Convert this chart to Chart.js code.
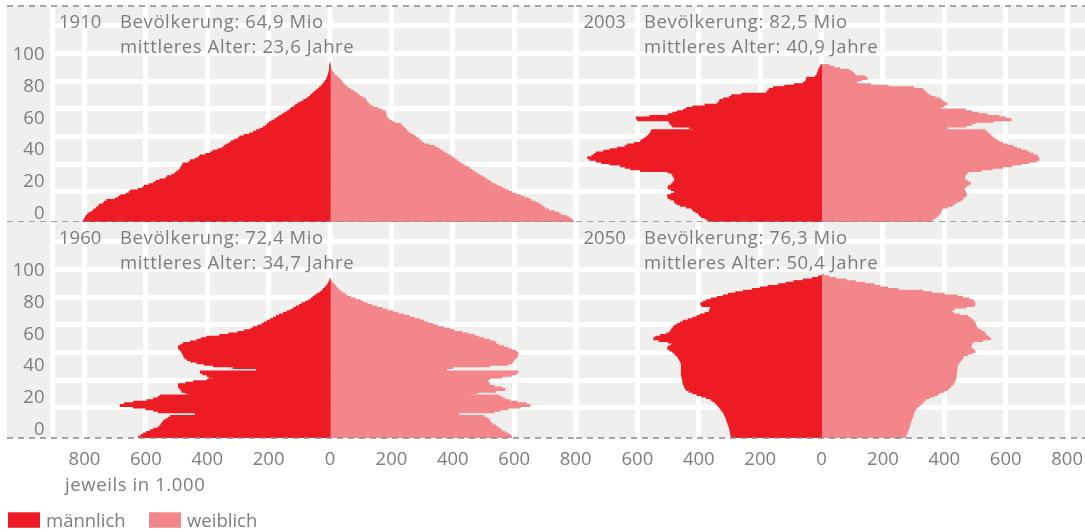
<!DOCTYPE html>
<html lang="de">
<head>
<meta charset="UTF-8">
<title>Bevölkerungspyramiden</title>
<script src="https://cdn.jsdelivr.net/npm/chart.js"></script>
<style>
  body { margin: 0; background: #fff; }
  #wrap { position: relative; width: 1085px; height: 531px; overflow: hidden; }
  canvas { position: absolute; }
</style>
</head>
<body>
<div id="wrap">
  <canvas id="c1910"></canvas>
  <canvas id="c1960"></canvas>
  <canvas id="c2003"></canvas>
  <canvas id="c2050"></canvas>
</div>
<script>
// Einwohner je Altersjahr (Index = Alter), jeweils in 1.000
const male1910 = [805,800,798,795,790,785,775,770,762,757, 752,740,735,728,700,690,682,665,655,650,
  625,610,605,590,575,567,555,535,530,515, 505,500,492,488,485,482,480,460,455,440,
  430,424,405,390,382,365,352,345,338,328, 322,312,300,295,280,262,250,240,228,218,
  210,204,198,190,180,172,165,156,148,140, 132,127,118,112,104,95,86,77,70,64,
  58,52,46,40,34,28,24,20,16,13, 10,8,6,4.5,3.5,2.5,2,1.5,1,0.5];
const female1910 = [792,788,780,770,752,745,730,712,700,695, 688,680,668,655,648,632,620,605,592,582,
  570,560,548,538,528,520,512,505,496,487, 478,470,462,456,448,438,430,422,414,407,
  400,392,382,375,366,358,350,340,322,305, 298,292,288,280,272,262,255,250,245,240,
  235,230,210,200,192,186,184,182,181,180, 168,155,140,130,125,120,117,115,105,96,
  90,82,74,66,58,52,46,41,37,34, 28,22,16,12,8,5,3,2,1,0.5];

const male2003 = [368,372,380,392,398,402,410,418,423,440, 460,470,478,480,492,500,502,490,480,478,
  490,500,498,490,485,480,478,479,482,485, 488,500,590,622,640,655,690,717,735,755,
  762,748,740,734,710,689,665,640,632,610, 590,586,578,570,564,560,556,554,417,430,
  485,490,495,497,600,604,560,500,485,470, 450,440,420,380,340,334,332,320,300,293,
  260,179,175,170,157,120,89,60,52,50, 49,20,16,14,12,10,8,5,2];
const female2003 = [355,360,369,374,380,386,388,390,393,410, 425,432,440,452,460,462,470,472,470,466,
  465,465,470,478,485,475,468,466,465,468, 472,476,520,556,590,620,650,675,700,709,
  706,703,690,680,669,650,635,624,605,590, 578,570,562,556,550,545,540,533,409,409,
  470,488,500,560,618,600,578,540,510,488, 470,386,390,400,409,400,392,386,370,355,
  345,340,335,329,300,217,160,115,115,130, 149,140,110,105,100,90,60,40,25];

const male1960 = [624,615,608,598,586,575,560,554,550,546, 543,535,527,520,413,440,560,575,600,641,
  684,670,640,597,575,560,554,456,470,483, 486,490,494,494,470,445,400,380,395,402,
  415,423,240,228,316,380,410,434,455,465, 472,476,478,482,483,488,494,494,486,478,
  455,434,420,402,360,330,300,280,258,250, 235,222,215,205,195,185,175,165,152,140,
  128,119,110,100,92,80,70,62,56,50, 42,33,27,22,17,12,8,5,3,1];
const female1960 = [592,588,580,570,560,554,548,540,530,525, 521,518,510,500,400,420,535,554,580,620,
  651,640,610,586,570,560,550,456,480,540, 570,560,535,521,518,515,512,521,560,590,
  605,612,380,326,400,520,580,593,596,600, 606,610,612,612,605,593,580,565,550,540,
  537,520,500,485,472,450,430,405,391,370, 350,335,320,305,293,275,258,240,222,205,
  185,170,152,135,120,108,98,82,68,55, 49,40,33,27,22,18,14,9,5,2];

const male2050 = [293,295,296,297,298,299,300,302,304,306, 308,309,311,313,316,318,321,325,329,333,
  337,342,348,355,361,375,390,406,420,432, 440,444,447,449,451,452,453,454,455,456,
  457,457,457,457,457,457,457,458,460,463, 466,469,475,480,485,495,502,498,490,485,
  500,530,547,541,525,505,495,491,488,484, 479,470,460,451,435,420,406,395,380,366,
  365,362,361,390,394,385,375,360,340,320, 304,280,255,225,200,175,140,115,90,60, 30,10];
const female2050 = [272,275,277,279,281,283,285,287,288,289, 291,293,295,297,299,300,302,305,308,312,
  318,325,330,335,340,352,365,378,386,400, 410,416,421,426,430,433,436,437,438,439,
  440,440,441,441,442,442,444,448,452,456, 460,462,475,490,500,495,488,486,488,490,
  494,525,550,545,538,533,530,520,510,506, 504,502,500,495,490,484,476,450,430,421,
  425,432,470,498,500,497,494,480,460,442, 400,360,330,250,216,190,171,140,110,81, 45,25,8];

const ageTicks = [0, 20, 40, 60, 80, 100];
const years = ['1910', '2003', '1960', '2050'];
const popText = ['Bevölkerung: 64,9 Mio', 'Bevölkerung: 82,5 Mio', 'Bevölkerung: 72,4 Mio', 'Bevölkerung: 76,3 Mio'];
const ageText = ['mittleres Alter: 23,6 Jahre', 'mittleres Alter: 40,9 Jahre', 'mittleres Alter: 34,7 Jahre', 'mittleres Alter: 50,4 Jahre'];
const seriesNames = ['männlich', 'weiblich'];
const unitText = 'jeweils in 1.000';

const RED = '#ed1c24';
const PINK = '#f3868a';
const BG = '#efefee';
const TEXT = '#7d7d7d';
const FONT = '"Open Sans"';
const FSIZE = 18.5;

Chart.defaults.font.family = FONT;
Chart.defaults.font.size = FSIZE;
Chart.defaults.color = TEXT;

// grauer Hintergrund, gestrichelte Linien, Beschriftungen
const deco = {
    id: 'deco',
    beforeDraw(chart, args, o) {
        const { ctx, chartArea: a } = chart;
        ctx.save();
        ctx.fillStyle = BG;
        ctx.fillRect(a.left, a.top, a.right - a.left, a.bottom - a.top);
        if (o.labelCol) ctx.fillRect(7, a.top, 43, a.bottom - a.top);
        ctx.restore();
    },
    beforeDatasetsDraw(chart) {
        // weisse Mittellinie, wird von den Balken verdeckt
        const { ctx, chartArea: a } = chart;
        const x0 = chart.scales.x.getPixelForValue(0);
        ctx.save();
        ctx.fillStyle = '#ffffff';
        ctx.fillRect(x0 - 2.5, a.top, 5, a.bottom - a.top);
        ctx.restore();
    },
    afterDatasetsDraw(chart, args, o) {
        const { ctx, chartArea: a } = chart;
        ctx.save();
        ctx.strokeStyle = '#8a8a8a';
        ctx.lineWidth = 1.3;
        ctx.setLineDash([6, 5]);
        const x0 = o.labelCol ? 7 : a.left;
        const x1 = o.labelCol ? a.right : chart.width;
        const lines = o.topDash ? [a.top, a.bottom] : [a.bottom];
        lines.forEach(y => {
            ctx.beginPath();
            ctx.moveTo(x0, y);
            ctx.lineTo(x1, y);
            ctx.stroke();
        });
        ctx.setLineDash([]);

        ctx.fillStyle = TEXT;
        ctx.font = FSIZE + 'px ' + FONT;
        ctx.textBaseline = 'alphabetic';
        ctx.fillText(o.year, a.left + o.yearDx, a.top + 22.2);
        ctx.letterSpacing = '0.6px';
        ctx.fillText(o.pop, a.left + o.statDx, a.top + 22.2);
        ctx.fillText(o.age, a.left + o.statDx, a.top + 47.3);

        if (o.legend) {
            ctx.fillText(unitText, 65, a.bottom + 52.7);
            ctx.letterSpacing = '0px';
            const xs = [8, 149];
            chart.data.datasets.forEach((ds, i) => {
                ctx.fillStyle = ds.backgroundColor;
                ctx.fillRect(xs[i], a.bottom + 74.3, 32, 15.5);
                ctx.fillStyle = TEXT;
                ctx.fillText(ds.label, xs[i] + 38, a.bottom + 88.7);
            });
        }
        ctx.restore();
    }
};

function panel(id, k, row, col, male, female) {
    const isLeft = col === 0;
    const isBottom = row === 1;
    const cv = document.getElementById(id);
    cv.width = isLeft ? 600 : 509;
    cv.height = isBottom ? 309 : 222;
    cv.style.left = (isLeft ? 0 : 576) + 'px';
    cv.style.top = (isBottom ? 222 : 0) + 'px';

    return new Chart(cv, {
        type: 'bar',
        data: {
            datasets: [
                { label: seriesNames[0], data: male.map((v, a) => ({ x: -v, y: a + 0.5 })), backgroundColor: RED },
                { label: seriesNames[1], data: female.map((v, a) => ({ x: v, y: a + 0.5 })), backgroundColor: PINK }
            ]
        },
        options: {
            responsive: false,
            animation: false,
            events: [],
            indexAxis: 'y',
            layout: { padding: { top: isBottom ? 0 : 6, right: isLeft ? 24.4 : 0, left: 0, bottom: 0 } },
            datasets: { bar: { grouped: false, barThickness: 2.4, borderWidth: 0 } },
            scales: {
                x: {
                    type: 'linear',
                    min: isLeft ? -896 : -800,
                    max: isLeft ? 800 : 858.3,
                    grid: {
                        color: '#ffffff',
                        // Linie bei 0 selbst zeichnen, sonst rueckt Chart.js die Balken ab
                        lineWidth: c => (c.tick && c.tick.value === 0) ? 0 : 5,
                        drawTicks: false
                    },
                    border: { display: false },
                    ticks: {
                        display: isBottom,
                        stepSize: 200,
                        includeBounds: false,
                        padding: 10.5,
                        maxRotation: 0,
                        autoSkip: false,
                        callback: v => (!isLeft && v === -800) ? '' : String(Math.abs(v))
                    },
                    afterFit: s => { s.height = isBottom ? 93 : 0; s.paddingLeft = 0; s.paddingRight = 0; }
                },
                y: {
                    type: 'linear',
                    position: 'left',
                    min: 0,
                    max: 136.1,
                    offset: false,
                    display: isLeft,
                    grid: { display: false, drawTicks: false, offset: false },
                    border: { display: false },
                    ticks: {
                        stepSize: 20,
                        includeBounds: false,
                        padding: 10.5,
                        labelOffset: -8.5,
                        callback: v => ageTicks.includes(v) ? String(v) : ''
                    },
                    afterFit: s => { if (isLeft) s.width = 55; s.paddingTop = 0; s.paddingBottom = 0; }
                },
                yg: {
                    type: 'linear',
                    position: 'right',
                    min: -0.94,
                    max: 5.565,
                    grid: { color: '#ffffff', lineWidth: 5, drawTicks: false },
                    border: { display: false },
                    ticks: { display: false, stepSize: 1, includeBounds: false },
                    afterFit: s => { s.width = 0; s.paddingTop = 0; s.paddingBottom = 0; }
                }
            },
            plugins: {
                legend: { display: false },
                tooltip: { enabled: false },
                deco: {
                    labelCol: isLeft,
                    topDash: !isBottom,
                    legend: isLeft && isBottom,
                    year: years[k],
                    pop: popText[k],
                    age: ageText[k],
                    yearDx: isLeft ? 4 : 7.5,
                    statDx: isLeft ? 65 : 68
                }
            }
        },
        plugins: [deco]
    });
}

panel('c1910', 0, 0, 0, male1910, female1910);
panel('c1960', 2, 1, 0, male1960, female1960);
panel('c2003', 1, 0, 1, male2003, female2003);
panel('c2050', 3, 1, 1, male2050, female2050);
</script>
</body>
</html>
